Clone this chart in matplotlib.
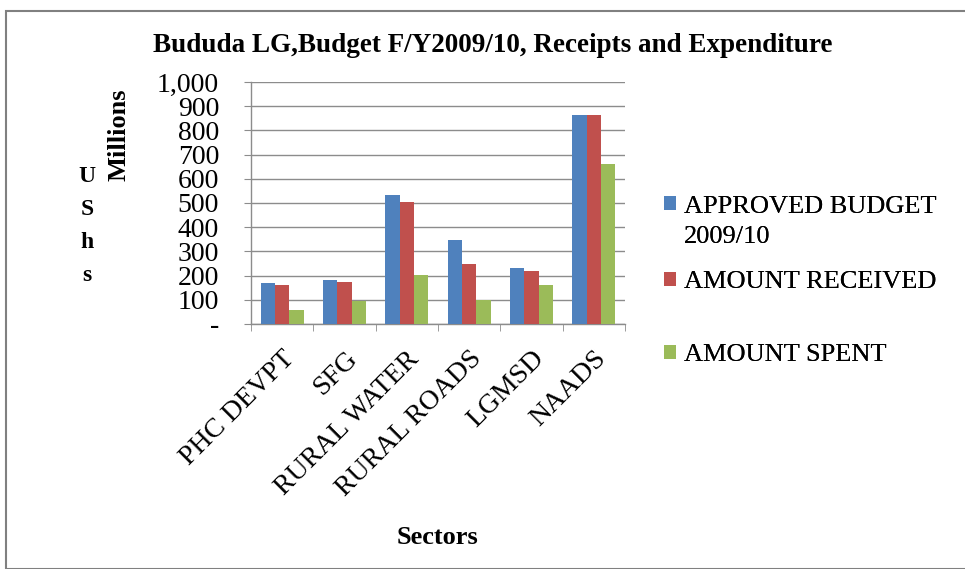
import matplotlib
matplotlib.use("Agg")
import matplotlib.pyplot as plt
import numpy as np
from matplotlib.patches import Rectangle
from matplotlib.ticker import FuncFormatter, FixedLocator

plt.rcParams['font.family'] = ['Liberation Serif', 'DejaVu Serif']

categories = ["PHC DEVPT", "SFG", "RURAL WATER", "RURAL ROADS", "LGMSD", "NAADS"]
approved = [168, 183, 531, 349, 230, 865]
received = [161, 172, 505, 250, 219, 865]
spent = [58, 96, 202, 99, 161, 660]
series_labels = ["APPROVED BUDGET\n2009/10", "AMOUNT RECEIVED", "AMOUNT SPENT"]
colors = ["#4F81BD", "#C0504D", "#9BBB59"]

fig = plt.figure(figsize=(9.65, 5.69), dpi=100)
W, H = 965, 569
ax = fig.add_axes([251 / W, 1 - 324 / H, (625 - 251) / W, (324 - 82) / H])

x = np.arange(len(categories))
bw = 0.23
containers = []
for i, (vals, lab, c) in enumerate(zip([approved, received, spent], series_labels, colors)):
    containers.append(ax.bar(x + (i - 1) * bw, vals, width=bw, color=c, label=lab, zorder=3))

ax.set_xlim(-0.5, len(categories) - 0.5)
ax.set_ylim(0, 1000)
ax.set_yticks(np.arange(0, 1001, 100))
ax.yaxis.set_major_formatter(FuncFormatter(lambda v, p: "-" if v == 0 else f"{int(v):,}"))
ax.grid(axis='y', color='#8c8c8c', linewidth=1.0, zorder=0)
ax.set_xticks(x)
ax.set_xticklabels(categories, rotation=45, ha='right', rotation_mode='anchor', fontsize=20)
ax.xaxis.set_minor_locator(FixedLocator(np.arange(-0.5, len(categories), 1.0)))
ax.tick_params(axis='x', which='major', length=0, pad=16)
ax.tick_params(axis='x', which='minor', length=5, color='#8c8c8c', direction='out')
ax.tick_params(axis='y', length=5, color='#8c8c8c', labelsize=20, pad=18)
for s in ['top', 'right']:
    ax.spines[s].set_visible(False)
for s in ['left', 'bottom']:
    ax.spines[s].set_color('#8c8c8c')
    ax.spines[s].set_linewidth(1.0)

fig.text(493 / W, 1 - 46 / H, "Bududa LG,Budget F/Y2009/10, Receipts and Expenditure",
         ha='center', va='center', fontsize=19.5, fontweight='bold')
fig.text(119 / W, 1 - 135 / H, "Millions", rotation=90, ha='center', va='center',
         fontsize=19, fontweight='bold')
fig.text(87 / W, 1 - 226 / H, "U\nS\nh\ns", ha='center', va='center',
         fontsize=17, fontweight='bold', linespacing=1.75)
fig.text(437 / W, 1 - 537 / H, "Sectors", ha='center', va='center',
         fontsize=19, fontweight='bold')

leg_y = [196, 282, 355]
for k, (cont, lab, yy) in enumerate(zip(containers, series_labels, leg_y)):
    leg = fig.legend(handles=[cont], labels=[lab], loc='center left' if k else 'upper left',
                     bbox_to_anchor=(664 / W, 1 - yy / H), frameon=False,
                     fontsize=19, handlelength=0.45, handleheight=0.45, handletextpad=0.3,
                     borderaxespad=0, borderpad=0)
    if k == 0:
        leg.get_texts()[0].set_linespacing(1.45)
        for col in leg._legend_handle_box.get_children():
            for hp in col.get_children():
                hp.align = "top"
    fig.add_artist(leg)

fig.patches.append(Rectangle((6 / W, 0), 1.5, 1 - 11 / H, transform=fig.transFigure,
                             fill=False, edgecolor='#808080', linewidth=1.5))

fig.savefig("out.png", dpi=100)
